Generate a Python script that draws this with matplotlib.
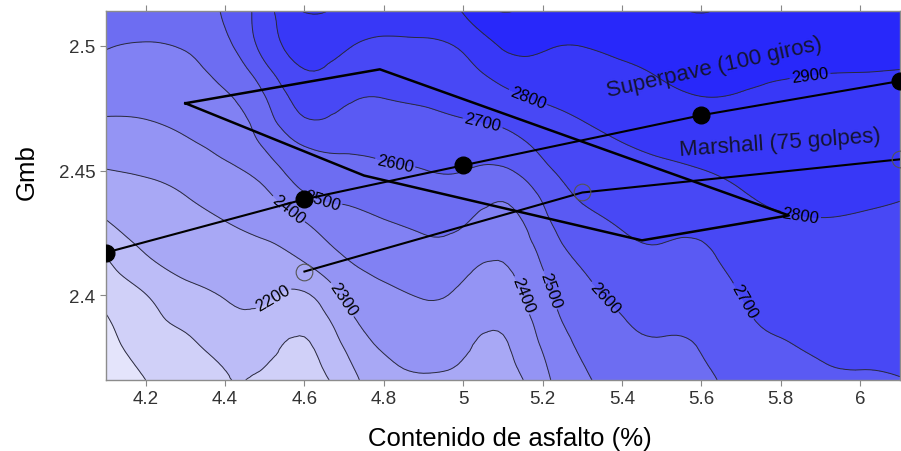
import numpy as np
import matplotlib
matplotlib.use("Agg")
import matplotlib.pyplot as plt
import matplotlib.tri as mtri
from matplotlib.colors import ListedColormap, BoundaryNorm
from matplotlib.ticker import FuncFormatter, MultipleLocator

plt.rcParams['font.family'] = ['Liberation Sans', 'DejaVu Sans']

# asphalt content (%) along x, Gmb along y (top row first)
asphalt = [4.1, 4.2, 4.3, 4.4, 4.5, 4.6, 4.7, 4.8, 4.9, 5.0, 5.1,
           5.2, 5.3, 5.4, 5.5, 5.6, 5.7, 5.8, 5.9, 6.0, 6.1]
gmb = [2.514, 2.50, 2.49, 2.48, 2.47, 2.46, 2.45, 2.44, 2.43, 2.42,
       2.41, 2.40, 2.39, 2.38, 2.366]

# stability surface, one row per Gmb value
stability = [
    [2560, 2570, 2575, 2612, 2755, 2905, 2880, 2870, 2880, 2905, 3005, 2960, 2960, 2960, 2970, 3005, 2975, 2975, 2975, 2980, 2980],
    [2505, 2493, 2507, 2572, 2737, 2835, 2812, 2777, 2783, 2816, 2909, 2911, 2901, 2918, 2935, 2950, 2950, 2950, 2948, 2950, 2950],
    [2468, 2460, 2477, 2531, 2668, 2797, 2766, 2740, 2749, 2772, 2842, 2862, 2867, 2887, 2911, 2935, 2922, 2910, 2904, 2902, 2898],
    [2432, 2428, 2448, 2491, 2599, 2745, 2721, 2704, 2716, 2734, 2777, 2813, 2833, 2857, 2879, 2901, 2896, 2890, 2886, 2884, 2880],
    [2393, 2398, 2419, 2456, 2555, 2690, 2671, 2665, 2678, 2696, 2718, 2768, 2800, 2827, 2847, 2867, 2870, 2871, 2869, 2866, 2862],
    [2346, 2353, 2386, 2422, 2510, 2602, 2617, 2625, 2638, 2649, 2655, 2724, 2770, 2796, 2815, 2833, 2845, 2852, 2851, 2848, 2843],
    [2297, 2310, 2343, 2385, 2443, 2553, 2566, 2584, 2598, 2601, 2588, 2674, 2740, 2768, 2785, 2798, 2819, 2832, 2833, 2830, 2823],
    [2248, 2277, 2300, 2343, 2381, 2489, 2517, 2541, 2560, 2556, 2514, 2616, 2711, 2740, 2756, 2763, 2794, 2812, 2816, 2812, 2804],
    [2198, 2254, 2271, 2301, 2335, 2403, 2469, 2498, 2521, 2511, 2467, 2572, 2675, 2711, 2727, 2727, 2771, 2793, 2798, 2794, 2788],
    [2129, 2215, 2242, 2270, 2290, 2343, 2422, 2458, 2483, 2464, 2426, 2534, 2637, 2683, 2698, 2695, 2748, 2773, 2781, 2778, 2775],
    [2075, 2165, 2213, 2238, 2253, 2274, 2370, 2418, 2445, 2417, 2388, 2497, 2599, 2654, 2671, 2673, 2724, 2754, 2763, 2762, 2761],
    [2030, 2097, 2173, 2206, 2215, 2189, 2310, 2381, 2406, 2379, 2355, 2468, 2571, 2624, 2644, 2651, 2701, 2734, 2746, 2747, 2747],
    [1990, 2070, 2124, 2170, 2172, 2133, 2258, 2347, 2372, 2347, 2322, 2440, 2544, 2596, 2617, 2628, 2685, 2714, 2729, 2731, 2733],
    [1965, 2040, 2080, 2136, 2129, 2090, 2208, 2313, 2338, 2315, 2290, 2411, 2517, 2578, 2592, 2606, 2667, 2695, 2711, 2715, 2719],
    [1940, 2000, 2035, 2095, 2085, 2065, 2145, 2270, 2292, 2285, 2260, 2370, 2485, 2530, 2552, 2575, 2645, 2670, 2690, 2693, 2698],
]

superpave_ac = [4.1, 4.6, 5.0, 5.6, 6.1]
superpave_gmb = [2.4171, 2.4385, 2.4521, 2.4722, 2.4859]
marshall_ac = [4.6, 5.3, 6.1]
marshall_gmb = [2.4095, 2.4412, 2.4545]

# specification zone outline
zone_ac = [4.3, 4.79, 5.82, 5.45, 4.75, 4.3]
zone_gmb = [2.477, 2.4906, 2.432, 2.422, 2.448, 2.477]

levels = np.arange(1900, 3101, 100)
band_colors = ['#e4e4fb', '#d0d0f8', '#bcbcf7', '#a8a8f5', '#9494f4', '#8181f3',
               '#6d6df2', '#5a5af3', '#4848f5', '#3838f7', '#2828fa', '#1818fd']
cmap = ListedColormap(band_colors)
norm = BoundaryNorm(levels, cmap.N)

# smooth the surface on a refined triangular mesh
X, Y = np.meshgrid(asphalt, gmb)
Z = np.array(stability, dtype=float)
nx, ny = len(asphalt), len(gmb)
tris = []
for j in range(ny - 1):
    for i in range(nx - 1):
        a = j * nx + i
        tris.append([a, a + 1, a + nx + 1])
        tris.append([a, a + nx + 1, a + nx])
yscale = 6.285
tri_s = mtri.Triangulation(X.ravel(), Y.ravel() * yscale, tris)
interp = mtri.CubicTriInterpolator(tri_s, Z.ravel(), kind='min_E')
tri_r, z_r = mtri.UniformTriRefiner(tri_s).refine_field(Z.ravel(), triinterpolator=interp, subdiv=3)
tri_plot = mtri.Triangulation(tri_r.x, tri_r.y / yscale, tri_r.triangles)

fig = plt.figure(figsize=(9.01, 4.52), dpi=100)
ax = fig.add_axes([0.1176, 0.1571, 0.8812, 0.8164])

ax.tricontourf(tri_plot, z_r, levels=levels, cmap=cmap, norm=norm)
cl = ax.tricontour(tri_plot, z_r, levels=levels, colors='#2a2a3a', linewidths=0.7)

label_spots = [(5.164, 2.4798), (5.048, 2.4686), (4.828, 2.4525), (4.647, 2.4393),
               (4.546, 2.4317), (4.531, 2.3972), (4.697, 2.3984), (5.143, 2.3996),
               (5.226, 2.4024), (5.352, 2.3984), (5.715, 2.3984), (5.849, 2.4313),
               (5.874, 2.4874)]
ax.clabel(cl, manual=label_spots, fmt='%d', fontsize=12, inline=True, inline_spacing=2,
          colors='black')

ax.plot(zone_ac, zone_gmb, color='black', lw=1.8, zorder=4)
ax.plot(superpave_ac, superpave_gmb, color='black', lw=1.5, marker='o', ms=12, zorder=5)
ax.plot(marshall_ac, marshall_gmb, color='black', lw=1.5, zorder=5)
ax.plot(marshall_ac, marshall_gmb, ls='none', marker='o', ms=12, mfc='none',
        mec='#555555', mew=0.8, zorder=5)

ax.text(5.632, 2.4914, 'Superpave (100 giros)', rotation=12.5, ha='center', va='center',
        rotation_mode='anchor', fontsize=16, color='#141432', zorder=6)
ax.text(5.799, 2.4613, 'Marshall (75 golpes)', rotation=4, ha='center', va='center',
        rotation_mode='anchor', fontsize=16, color='#141432', zorder=6)

ax.set_xlim(4.1, 6.1)
ax.set_ylim(2.366, 2.514)
ax.xaxis.set_major_locator(MultipleLocator(0.2))
ax.yaxis.set_major_locator(MultipleLocator(0.05))
fmt = FuncFormatter(lambda v, pos: '%g' % round(v, 2))
ax.xaxis.set_major_formatter(fmt)
ax.yaxis.set_major_formatter(fmt)
ax.tick_params(direction='out', length=4, width=0.8, color='#888888',
               labelsize=13.5, labelcolor='#333333', top=True, right=True)
for s in ax.spines.values():
    s.set_color('#8c8c8c')
    s.set_linewidth(1)

ax.set_xlabel('Contenido de asfalto (%)', fontsize=18.5)
ax.set_ylabel('Gmb', fontsize=18.5)
ax.xaxis.set_label_coords(0.509, -0.125)
ax.yaxis.set_label_coords(-0.085, 0.567)

fig.savefig('out.png', dpi=100)
